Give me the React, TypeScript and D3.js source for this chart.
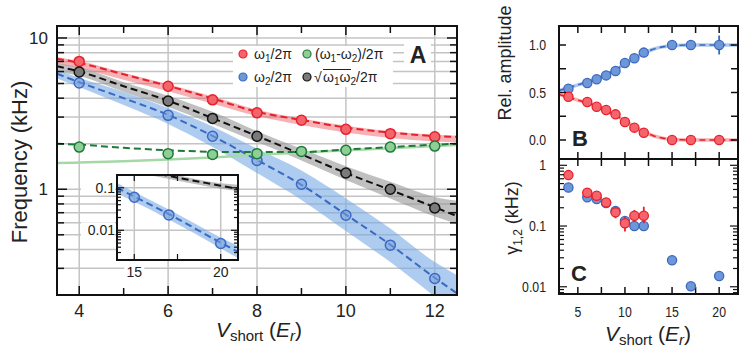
import React from 'react';
import * as d3 from 'd3';

// ---------- Panel A data ----------
const bandX = [3.5, 4, 5, 6, 7, 8, 9, 10, 11, 12, 12.5];
const redDash = [7.3, 6.85, 5.75, 4.82, 3.98, 3.25, 2.87, 2.56, 2.37, 2.25, 2.22];
const redLo = [6.75, 6.3, 5.3, 4.45, 3.68, 3.05, 2.66, 2.37, 2.18, 2.07, 2.04];
const redHi = [7.5, 7.05, 5.9, 4.95, 4.1, 3.36, 2.94, 2.63, 2.42, 2.29, 2.26];
const blackDash = [6.5, 6.0, 4.8, 3.85, 2.95, 2.25, 1.7, 1.28, 0.99, 0.76, 0.665];
const blackLo = [5.95, 5.6, 4.4, 3.5, 2.7, 2.05, 1.55, 1.15, 0.87, 0.66, 0.59];
const blackHi = [6.8, 6.4, 5.1, 4.15, 3.25, 2.42, 1.85, 1.42, 1.12, 0.89, 0.84];
const blueDash = [5.8, 5.1, 4.0, 3.1, 2.25, 1.56, 1.07, 0.68, 0.43, 0.26, 0.205];
const blueLo = [5.4, 4.75, 3.6, 2.7, 1.9, 1.28, 0.85, 0.53, 0.33, 0.195, 0.15];
const blueHi = [6.15, 5.45, 4.4, 3.45, 2.6, 1.85, 1.33, 0.87, 0.55, 0.33, 0.27];
const greenDash = [2.0, 1.97, 1.88, 1.81, 1.77, 1.76, 1.76, 1.83, 1.9, 1.97, 2.0];
const greenLight = [1.49, 1.5, 1.53, 1.57, 1.62, 1.69, 1.75, 1.81, 1.87, 1.93, 1.96];

const ptX = [4, 6, 7, 8, 9, 10, 11, 12];
const omega1 = [7.0, 4.8, 3.9, 3.2, 2.86, 2.49, 2.33, 2.22];
const omega2 = [5.04, 3.08, 2.24, 1.55, 1.08, 0.673, 0.427, 0.257];
const omegaDiff = [1.9, 1.72, 1.7, 1.72, 1.78, 1.81, 1.9, 1.93];
const geoX = [4, 6, 7, 8, 10, 11, 12];
const omegaGeo = [5.96, 3.83, 2.94, 2.24, 1.28, 1.0, 0.752];

const xTicksMain = [4, 6, 8, 10, 12];
const xMinorMain = [4, 5, 6, 7, 8, 9, 10, 11, 12];
const yLabelsMain = [1, 10];

// ---------- Inset data ----------
const insetBandX = [14, 15, 17, 20, 21];
const insetBlueDash = [0.1, 0.062, 0.024, 0.0051, 0.0031];
const insetBlueLo = [0.072, 0.047, 0.018, 0.0038, 0.0022];
const insetBlueHi = [0.13, 0.08, 0.031, 0.0068, 0.0043];
const insetBlackX = [14, 17, 20, 21];
const insetBlackDash = [0.34, 0.19, 0.112, 0.094];
const insetBlackLo = [0.29, 0.16, 0.095, 0.083];
const insetBlackHi = [0.4, 0.22, 0.128, 0.118];
const insetPtX = [15, 17, 20];
const insetOmega2 = [0.06, 0.023, 0.0049];
const insetGridX = [15, 17, 20];
const insetXLabels = [15, 20];
const insetXTicks = [15, 17.5, 20];
const insetYLabels = [0.01, 0.1];

// ---------- Panel B data ----------
const fitX = [3, 4, 5, 6, 7, 8, 9, 10, 11, 12, 13, 14, 15, 16, 17, 18, 20, 22];
const fitBlue = [0.52, 0.55, 0.58, 0.61, 0.645, 0.69, 0.74, 0.8, 0.86, 0.915, 0.955, 0.98, 0.993, 0.998, 1, 1, 1, 1];
const fitRed = [0.48, 0.45, 0.42, 0.39, 0.355, 0.31, 0.26, 0.2, 0.14, 0.085, 0.045, 0.02, 0.007, 0.002, 0, 0, 0, 0];
const ampX = [4, 6, 7, 8, 9, 10, 11, 12, 15, 17, 20];
const ampBlue = [0.54, 0.6, 0.64, 0.68, 0.726, 0.81, 0.86, 0.92, 1.0, 1.0, 1.0];
const ampBlueErr = [0, 0, 0, 0, 0, 0, 0, 0, 0, 0, 0.1];
const ampRed = [0.456, 0.4, 0.35, 0.316, 0.27, 0.19, 0.13, 0.077, 0.0, 0.0, 0.0];
const ampYTicks = [0, 0.25, 0.5, 0.75, 1.0];
const ampYLabels = [0, 0.5, 1.0];
const rightXTicks = [5, 7.5, 10, 12.5, 15, 17.5, 20];
const rightXLabels = [5, 10, 15, 20];

// ---------- Panel C data ----------
const gBlueX = [4, 6, 7, 8, 9, 10, 11, 12, 15, 17, 20];
const gBlue = [0.43, 0.297, 0.279, 0.24, 0.177, 0.121, 0.1, 0.1, 0.0274, 0.0102, 0.015];
const gRedX = [4, 6, 7, 8, 9, 10, 11, 12];
const gRed = [0.69, 0.354, 0.316, 0.245, 0.168, 0.111, 0.148, 0.148];
const gRedLo = [0.69, 0.354, 0.316, 0.245, 0.134, 0.081, 0.118, 0.111];
const gRedHi = [0.69, 0.354, 0.316, 0.245, 0.195, 0.142, 0.183, 0.208];
const gYLabels = [0.01, 0.1, 1];

const FONT = "'Liberation Sans', Arial, Helvetica, sans-serif";

const C = {
  red: '#e8202a', redFill: '#f3646c', redBand: 'rgba(238,80,88,0.45)',
  blue: '#3b69c2', blueFill: 'rgba(120,160,220,0.55)', blueFillSolid: '#6d97d6', blueBand: 'rgba(120,170,228,0.6)',
  black: '#111', blackFill: '#7a7a7a', greyBand: 'rgba(150,150,150,0.6)',
  green: '#1c7a3a', greenFill: '#8fcf95', greenLight: '#a6d8a6',
  grid: '#c4c4c4'
};

export default function App() {
  // Main panel
  const L = 57, R = 457, T = 26, B = 295;
  const x = d3.scaleLinear().domain([3.5, 12.5]).range([L, R]);
  const y = d3.scaleLog().domain([0.2, 12]).range([B, T]);
  const mainTicks = y.ticks();

  const area = (xs: number[], lo: number[], hi: number[], sx: any, sy: any) =>
    d3.area<number>().x((_, i) => sx(xs[i])).y0((_, i) => sy(lo[i])).y1((_, i) => sy(hi[i])).curve(d3.curveMonotoneX)(xs) || '';
  const line = (xs: number[], ys: number[], sx: any, sy: any) =>
    d3.line<number>().x((_, i) => sx(xs[i])).y((_, i) => sy(ys[i])).curve(d3.curveMonotoneX)(xs) || '';

  // Inset
  const iL = 117, iR = 238, iT = 175, iB = 260;
  const ix = d3.scaleLinear().domain([14, 21]).range([iL, iR]);
  const iy = d3.scaleLog().domain([0.002, 0.2]).range([iB, iT]);
  const insetTicks = iy.ticks();

  // Right panels
  const rL = 559, rR = 738, bT = 26, bB = 159, cB = 294;
  const rx = d3.scaleLinear().domain([3, 22]).range([rL, rR]);
  const by = d3.scaleLinear().domain([-0.2, 1.2]).range([bB, bT]);
  const cy = d3.scaleLog().domain([0.0076, 1.27]).range([cB, bB]);
  const cTicks = cy.ticks();

  const narrow = (tx: number, ty: number, txt: string, anchor: string, size: number) => (
    <text transform={`translate(${tx},${ty}) scale(0.82,1)`} textAnchor={anchor} fontSize={size} fill="#222">{txt}</text>
  );

  const isMajor = (v: number) => Math.abs(Math.log10(v) - Math.round(Math.log10(v))) < 1e-6;

  return (
    <svg width={748} height={359} style={{ position: 'absolute', left: 0, top: 0, background: '#fff' }} fontFamily={FONT}>
      <defs>
        <clipPath id="clipA"><rect x={L} y={T} width={R - L} height={B - T} /></clipPath>
        <clipPath id="clipI"><rect x={iL} y={iT} width={iR - iL} height={iB - iT} /></clipPath>
        <clipPath id="clipB"><rect x={rL} y={bT} width={rR - rL} height={bB - bT} /></clipPath>
        <clipPath id="clipC"><rect x={rL} y={bB} width={rR - rL} height={cB - bB} /></clipPath>
      </defs>

      {/* ===== Panel A ===== */}
      <g clipPath="url(#clipA)">
        {mainTicks.map((v, i) => (
          <line key={'hg' + i} x1={L} x2={R} y1={y(v)} y2={y(v)} stroke={C.grid} strokeWidth={1.5} />
        ))}
        {xTicksMain.map((v) => (
          <line key={'vg' + v} x1={x(v)} x2={x(v)} y1={T} y2={B} stroke={C.grid} strokeWidth={1.5} />
        ))}
        {/* legend background */}
        <rect x={233} y={46} width={160} height={41} fill="#fff" />
        <rect x={404} y={44} width={27} height={22} fill="#fff" />

        <path d={area(bandX, redLo, redHi, x, y)} fill={C.redBand} />
        <path d={area(bandX, blackLo, blackHi, x, y)} fill={C.greyBand} />
        <path d={area(bandX, blueLo, blueHi, x, y)} fill={C.blueBand} />
        <path d={line(bandX, greenLight, x, y)} fill="none" stroke={C.greenLight} strokeWidth={2.5} />

        <path d={line(bandX, redDash, x, y)} fill="none" stroke={C.red} strokeWidth={2} strokeDasharray="7,4" />
        <path d={line(bandX, blackDash, x, y)} fill="none" stroke={C.black} strokeWidth={2} strokeDasharray="7,4" />
        <path d={line(bandX, blueDash, x, y)} fill="none" stroke={C.blue} strokeWidth={2} strokeDasharray="7,4" />
        <path d={line(bandX, greenDash, x, y)} fill="none" stroke={C.green} strokeWidth={2} strokeDasharray="7,4" />

        {ptX.map((v, i) => (
          <circle key={'r' + i} cx={x(v)} cy={y(omega1[i])} r={5} fill={C.redFill} stroke={C.red} strokeWidth={1.5} />
        ))}
        {ptX.map((v, i) => (
          <circle key={'b' + i} cx={x(v)} cy={y(omega2[i])} r={5} fill={C.blueFill} stroke={C.blue} strokeWidth={1.5} />
        ))}
        {ptX.map((v, i) => (
          <circle key={'g' + i} cx={x(v)} cy={y(omegaDiff[i])} r={5} fill={C.greenFill} stroke={C.green} strokeWidth={1.5} />
        ))}
        {geoX.map((v, i) => (
          <circle key={'k' + i} cx={x(v)} cy={y(omegaGeo[i])} r={5} fill={C.blackFill} stroke={C.black} strokeWidth={1.5} />
        ))}
      </g>

      {/* legend */}
      <g fontSize={14} fill="#222">
        <circle cx={243} cy={54} r={4} fill={C.redFill} stroke={C.red} strokeWidth={1.2} />
        <text x={254} y={59}>ω<tspan fontSize={10} dy={3}>1</tspan><tspan dy={-3}>/2π</tspan></text>
        <circle cx={243} cy={77} r={4} fill={C.blueFillSolid} stroke={C.blue} strokeWidth={1.2} />
        <text x={254} y={82}>ω<tspan fontSize={10} dy={3}>2</tspan><tspan dy={-3}>/2π</tspan></text>
        <circle cx={307} cy={54} r={4} fill={C.greenFill} stroke={C.green} strokeWidth={1.2} />
        <text x={315} y={59}>(ω<tspan fontSize={10} dy={3}>1</tspan><tspan dy={-3}>-ω</tspan><tspan fontSize={10} dy={3}>2</tspan><tspan dy={-3}>)/2π</tspan></text>
        <circle cx={307} cy={77} r={4} fill={C.blackFill} stroke={C.black} strokeWidth={1.2} />
        <text x={314} y={82}>√</text>
        <line x1={323} x2={351} y1={69.5} y2={69.5} stroke="#222" strokeWidth={1} />
        <text x={323} y={82}>ω<tspan fontSize={10} dy={3}>1</tspan><tspan dy={-3}>ω</tspan><tspan fontSize={10} dy={3}>2</tspan><tspan dy={-3}>/2π</tspan></text>
      </g>
      <text x={418} y={63} textAnchor="middle" fontSize={23} fontWeight="bold" fill="#222">A</text>

      {/* main frame & ticks */}
      {mainTicks.map((v, i) => {
        const len = isMajor(v) ? 10 : 7;
        return (
          <g key={'yt' + i}>
            <line x1={L} x2={L + len} y1={y(v)} y2={y(v)} stroke="#111" strokeWidth={1.5} />
            <line x1={R} x2={R - len} y1={y(v)} y2={y(v)} stroke="#111" strokeWidth={1.5} />
          </g>
        );
      })}
      {xMinorMain.map((v) => {
        const len = v % 2 === 0 ? 9 : 7;
        return (
          <g key={'xt' + v}>
            <line x1={x(v)} x2={x(v)} y1={B} y2={B - len} stroke="#111" strokeWidth={1.5} />
            <line x1={x(v)} x2={x(v)} y1={T} y2={T + len} stroke="#111" strokeWidth={1.5} />
          </g>
        );
      })}
      <rect x={L} y={T} width={R - L} height={B - T} fill="none" stroke="#111" strokeWidth={2} />
      {yLabelsMain.map((v) => (
        <text key={'yl' + v} x={L - 9} y={y(v) + 6} textAnchor="end" fontSize={17} fill="#222">{v}</text>
      ))}
      {xTicksMain.map((v) => (
        <text key={'xl' + v} x={x(v)} y={317} textAnchor="middle" fontSize={18} fill="#222">{v}</text>
      ))}
      <text transform="translate(27,162) rotate(-90)" textAnchor="middle" fontSize={22} fill="#222">Frequency (kHz)</text>
      <text x={259} y={337} textAnchor="middle" fontSize={21} fill="#222">
        <tspan fontStyle="italic">V</tspan><tspan fontSize={15} dy={4}>short</tspan><tspan dy={-4}> (</tspan>
        <tspan fontStyle="italic">E</tspan><tspan fontStyle="italic" fontSize={15} dy={4}>r</tspan><tspan dy={-4}>)</tspan>
      </text>

      {/* ===== Inset ===== */}
      <rect x={iL} y={iT} width={iR - iL} height={iB - iT} fill="#fff" />
      <g clipPath="url(#clipI)">
        {insetYLabels.map((v) => (
          <line key={'ihg' + v} x1={iL} x2={iR} y1={iy(v)} y2={iy(v)} stroke={C.grid} strokeWidth={1.5} />
        ))}
        {insetGridX.map((v) => (
          <line key={'ivg' + v} x1={ix(v)} x2={ix(v)} y1={iT} y2={iB} stroke={C.grid} strokeWidth={1.5} />
        ))}
        <path d={area(insetBlackX, insetBlackLo, insetBlackHi, ix, iy)} fill={C.greyBand} />
        <path d={line(insetBlackX, insetBlackDash, ix, iy)} fill="none" stroke={C.black} strokeWidth={2} strokeDasharray="7,4" />
        <path d={area(insetBandX, insetBlueLo, insetBlueHi, ix, iy)} fill={C.blueBand} />
        <path d={line(insetBandX, insetBlueDash, ix, iy)} fill="none" stroke={C.blue} strokeWidth={2} strokeDasharray="7,4" />
        {insetPtX.map((v, i) => (
          <circle key={'ip' + i} cx={ix(v)} cy={iy(insetOmega2[i])} r={5} fill={C.blueFill} stroke={C.blue} strokeWidth={1.5} />
        ))}
      </g>
      {insetTicks.map((v, i) => {
        const len = isMajor(v) ? 7 : 4;
        return (
          <g key={'iyt' + i}>
            <line x1={iL} x2={iL + len} y1={iy(v)} y2={iy(v)} stroke="#111" strokeWidth={1.2} />
            <line x1={iR} x2={iR - len} y1={iy(v)} y2={iy(v)} stroke="#111" strokeWidth={1.2} />
          </g>
        );
      })}
      {insetXTicks.map((v) => (
        <g key={'ixt' + v}>
          <line x1={ix(v)} x2={ix(v)} y1={iB} y2={iB - 6} stroke="#111" strokeWidth={1.2} />
          <line x1={ix(v)} x2={ix(v)} y1={iT} y2={iT + 6} stroke="#111" strokeWidth={1.2} />
        </g>
      ))}
      <rect x={iL} y={iT} width={iR - iL} height={iB - iT} fill="none" stroke="#111" strokeWidth={2} />
      {insetYLabels.map((v) => (
        <g key={'iyl' + v}>
          <rect x={iL - 36} y={iy(v) - 8} width={34} height={15} fill="#fff" />
          <text x={iL - 2} y={iy(v) + 5} textAnchor="end" fontSize={14} fill="#222">{v}</text>
        </g>
      ))}
      {insetXLabels.map((v) => (
        <g key={'ixl' + v}>
          <rect x={ix(v) - 10} y={iB + 3} width={20} height={16} fill="#fff" />
          <text x={ix(v)} y={iB + 17} textAnchor="middle" fontSize={14} fill="#222">{v}</text>
        </g>
      ))}

      {/* ===== Panel B ===== */}
      <g clipPath="url(#clipB)">
        <path d={line(fitX, fitBlue, rx, by)} fill="none" stroke="rgba(120,165,225,0.6)" strokeWidth={3.5} />
        <path d={line(fitX, fitRed, rx, by)} fill="none" stroke="rgba(240,110,115,0.55)" strokeWidth={3.5} />
        <path d={line(fitX, fitBlue, rx, by)} fill="none" stroke={C.blue} strokeWidth={1.6} strokeDasharray="6,4" />
        <path d={line(fitX, fitRed, rx, by)} fill="none" stroke={C.red} strokeWidth={1.6} strokeDasharray="6,4" />
        {ampX.map((v, i) => ampBlueErr[i] > 0 ? (
          <line key={'be' + i} x1={rx(v)} x2={rx(v)} y1={by(ampBlue[i] - ampBlueErr[i])} y2={by(ampBlue[i] + ampBlueErr[i])} stroke={C.blue} strokeWidth={1.8} />
        ) : null)}
        {ampX.map((v, i) => (
          <circle key={'ab' + i} cx={rx(v)} cy={by(ampBlue[i])} r={4.6} fill={C.blueFillSolid} stroke={C.blue} strokeWidth={1.3} />
        ))}
        {ampX.map((v, i) => (
          <circle key={'ar' + i} cx={rx(v)} cy={by(ampRed[i])} r={4.6} fill={C.redFill} stroke={C.red} strokeWidth={1.3} />
        ))}
      </g>
      {ampYTicks.map((v) => (
        <g key={'byt' + v}>
          <line x1={rL} x2={rL + 7} y1={by(v)} y2={by(v)} stroke="#111" strokeWidth={1.5} />
          <line x1={rR} x2={rR - 7} y1={by(v)} y2={by(v)} stroke="#111" strokeWidth={1.5} />
        </g>
      ))}
      {rightXTicks.map((v) => (
        <g key={'rxt' + v}>
          <line x1={rx(v)} x2={rx(v)} y1={bT} y2={bT + 7} stroke="#111" strokeWidth={1.5} />
          <line x1={rx(v)} x2={rx(v)} y1={bB} y2={bB - 7} stroke="#111" strokeWidth={1.5} />
          <line x1={rx(v)} x2={rx(v)} y1={bB} y2={bB + 7} stroke="#111" strokeWidth={1.5} />
          <line x1={rx(v)} x2={rx(v)} y1={cB} y2={cB - 7} stroke="#111" strokeWidth={1.5} />
        </g>
      ))}
      <rect x={rL} y={bT} width={rR - rL} height={bB - bT} fill="none" stroke="#111" strokeWidth={2} />
      {ampYLabels.map((v) => (
        <g key={'byl' + v}>{narrow(rL - 13, by(v) + 5, v.toFixed(1), 'end', 15)}</g>
      ))}
      <text x={572} y={146} fontSize={22} fontWeight="bold" fill="#222">B</text>
      <text transform="translate(511,63) rotate(-90)" textAnchor="middle" fontSize={18} fill="#222">Rel. amplitude</text>

      {/* ===== Panel C ===== */}
      <g clipPath="url(#clipC)">
        {gBlueX.map((v, i) => (
          <circle key={'cb' + i} cx={rx(v)} cy={cy(gBlue[i])} r={4.6} fill={C.blueFillSolid} stroke={C.blue} strokeWidth={1.3} />
        ))}
        {gRedX.map((v, i) => gRedHi[i] > gRedLo[i] ? (
          <line key={'ce' + i} x1={rx(v)} x2={rx(v)} y1={cy(gRedLo[i])} y2={cy(gRedHi[i])} stroke={C.red} strokeWidth={1.8} />
        ) : null)}
        {gRedX.map((v, i) => (
          <circle key={'cr' + i} cx={rx(v)} cy={cy(gRed[i])} r={4.6} fill={C.redFill} stroke={C.red} strokeWidth={1.3} />
        ))}
      </g>
      {cTicks.map((v, i) => {
        const len = isMajor(v) ? 8 : 5;
        return (
          <g key={'cyt' + i}>
            <line x1={rL} x2={rL + len} y1={cy(v)} y2={cy(v)} stroke="#111" strokeWidth={1.2} />
            <line x1={rR} x2={rR - len} y1={cy(v)} y2={cy(v)} stroke="#111" strokeWidth={1.2} />
          </g>
        );
      })}
      <rect x={rL} y={bB} width={rR - rL} height={cB - bB} fill="none" stroke="#111" strokeWidth={2} />
      {gYLabels.map((v) => (
        <g key={'cyl' + v}>{narrow(rL - 13, cy(v) + 5, String(v), 'end', 15)}</g>
      ))}
      {rightXLabels.map((v) => (
        <g key={'rxl' + v}>{narrow(rx(v), 317, String(v), 'middle', 15)}</g>
      ))}
      <text x={571} y={281} fontSize={22} fontWeight="bold" fill="#222">C</text>
      <text transform="translate(518,218) rotate(-90)" textAnchor="middle" fontSize={18} fill="#222">
        γ<tspan fontSize={12} dy={4}>1,2</tspan><tspan dy={-4}> (kHz)</tspan>
      </text>
      <text x={648} y={341} textAnchor="middle" fontSize={21} fill="#222">
        <tspan fontStyle="italic">V</tspan><tspan fontSize={15} dy={4}>short</tspan><tspan dy={-4}> (</tspan>
        <tspan fontStyle="italic">E</tspan><tspan fontStyle="italic" fontSize={15} dy={4}>r</tspan><tspan dy={-4}>)</tspan>
      </text>
    </svg>
  );
}
